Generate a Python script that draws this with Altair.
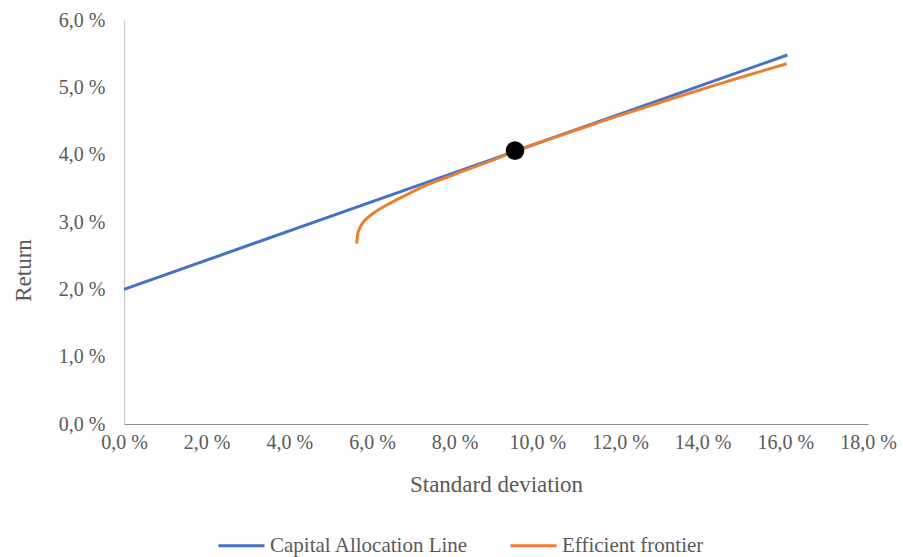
import altair as alt
import pandas as pd

# Capital allocation line (standard deviation %, return %)
cal_sd = [0.0, 16.05]
cal_ret = [2.0, 5.48]

# Efficient frontier (standard deviation %, return %)
ef_sd = [5.63, 5.67, 5.79, 6.03, 6.44, 6.92, 7.40, 7.89, 8.20, 8.86, 9.46,
         11.0, 12.0, 13.1, 14.5, 16.03]
ef_ret = [2.68, 2.86, 3.00, 3.13, 3.28, 3.43, 3.57, 3.68, 3.755, 3.905, 4.05,
          4.378, 4.583, 4.80, 5.07, 5.35]

# Tangency portfolio
tangent_sd = [9.46]
tangent_ret = [4.06]

series_names = ["Capital Allocation Line", "Efficient frontier"]
series_colors = ["#4472C4", "#ED7D31"]

lines = pd.DataFrame(
    {"sd": cal_sd + ef_sd,
     "ret": cal_ret + ef_ret,
     "series": [series_names[0]] * len(cal_sd) + [series_names[1]] * len(ef_sd)}
)
tangent = pd.DataFrame({"sd": tangent_sd, "ret": tangent_ret})

FONT = "Liberation Serif"
TEXT = "#595959"
pct_label = "replace(format(datum.value, '.1f'), '.', ',') + ' %'"

x_enc = alt.X(
    "sd:Q",
    scale=alt.Scale(domain=[0, 18], nice=False, zero=True),
    axis=alt.Axis(
        title="Standard deviation",
        values=[0, 2, 4, 6, 8, 10, 12, 14, 16, 18],
        labelExpr=pct_label,
        grid=False, ticks=False, domainColor="#8c8c8c", domainWidth=1.2,
        labelFontSize=20, labelPadding=8, labelColor=TEXT, labelFont=FONT,
        labelFlush=False,
        titleFontSize=23, titleColor=TEXT, titleFont=FONT, titleFontWeight="normal",
        titleBaseline="alphabetic", titleY=67,
    ),
)
y_enc = alt.Y(
    "ret:Q",
    scale=alt.Scale(domain=[0, 6], nice=False),
    axis=alt.Axis(
        title="Return",
        values=[0, 1, 2, 3, 4, 5, 6],
        labelExpr=pct_label,
        grid=False, ticks=False, domainColor="#c8c8c8", domainWidth=1.2,
        labelFontSize=20, labelPadding=19, labelColor=TEXT, labelFont=FONT,
        labelFlush=False,
        titleFontSize=23, titleColor=TEXT, titleFont=FONT, titleFontWeight="normal",
        titleBaseline="alphabetic", titleAlign="center", titleAngle=-90,
        titleX=-94, titleY=250,
    ),
)

line_layer = alt.Chart(lines).mark_line(strokeWidth=3, interpolate="catmull-rom").encode(
    x=x_enc,
    y=y_enc,
    color=alt.Color(
        "series:N",
        scale=alt.Scale(domain=series_names, range=series_colors),
        legend=alt.Legend(
            title=None, orient="none", direction="horizontal",
            legendX=93, legendY=501, padding=0,
            symbolType="stroke", symbolSize=2116, symbolStrokeWidth=3,
            labelFontSize=21, labelFont=FONT, labelColor=TEXT, labelOffset=4,
            labelLimit=500, columnPadding=35,
        ),
    ),
)

point_layer = alt.Chart(tangent).mark_circle(size=346, color="black", opacity=1).encode(
    x="sd:Q", y="ret:Q"
)

chart = (
    alt.layer(line_layer, point_layer)
    .properties(
        width=744, height=404,
        autosize=alt.AutoSizeParams(type="none"),
        padding={"left": 124, "top": 20, "right": 35, "bottom": 133},
        background="white",
    )
    .configure_view(stroke=None)
)

chart.save("out.html", embed_options={"renderer": "svg", "actions": False})
